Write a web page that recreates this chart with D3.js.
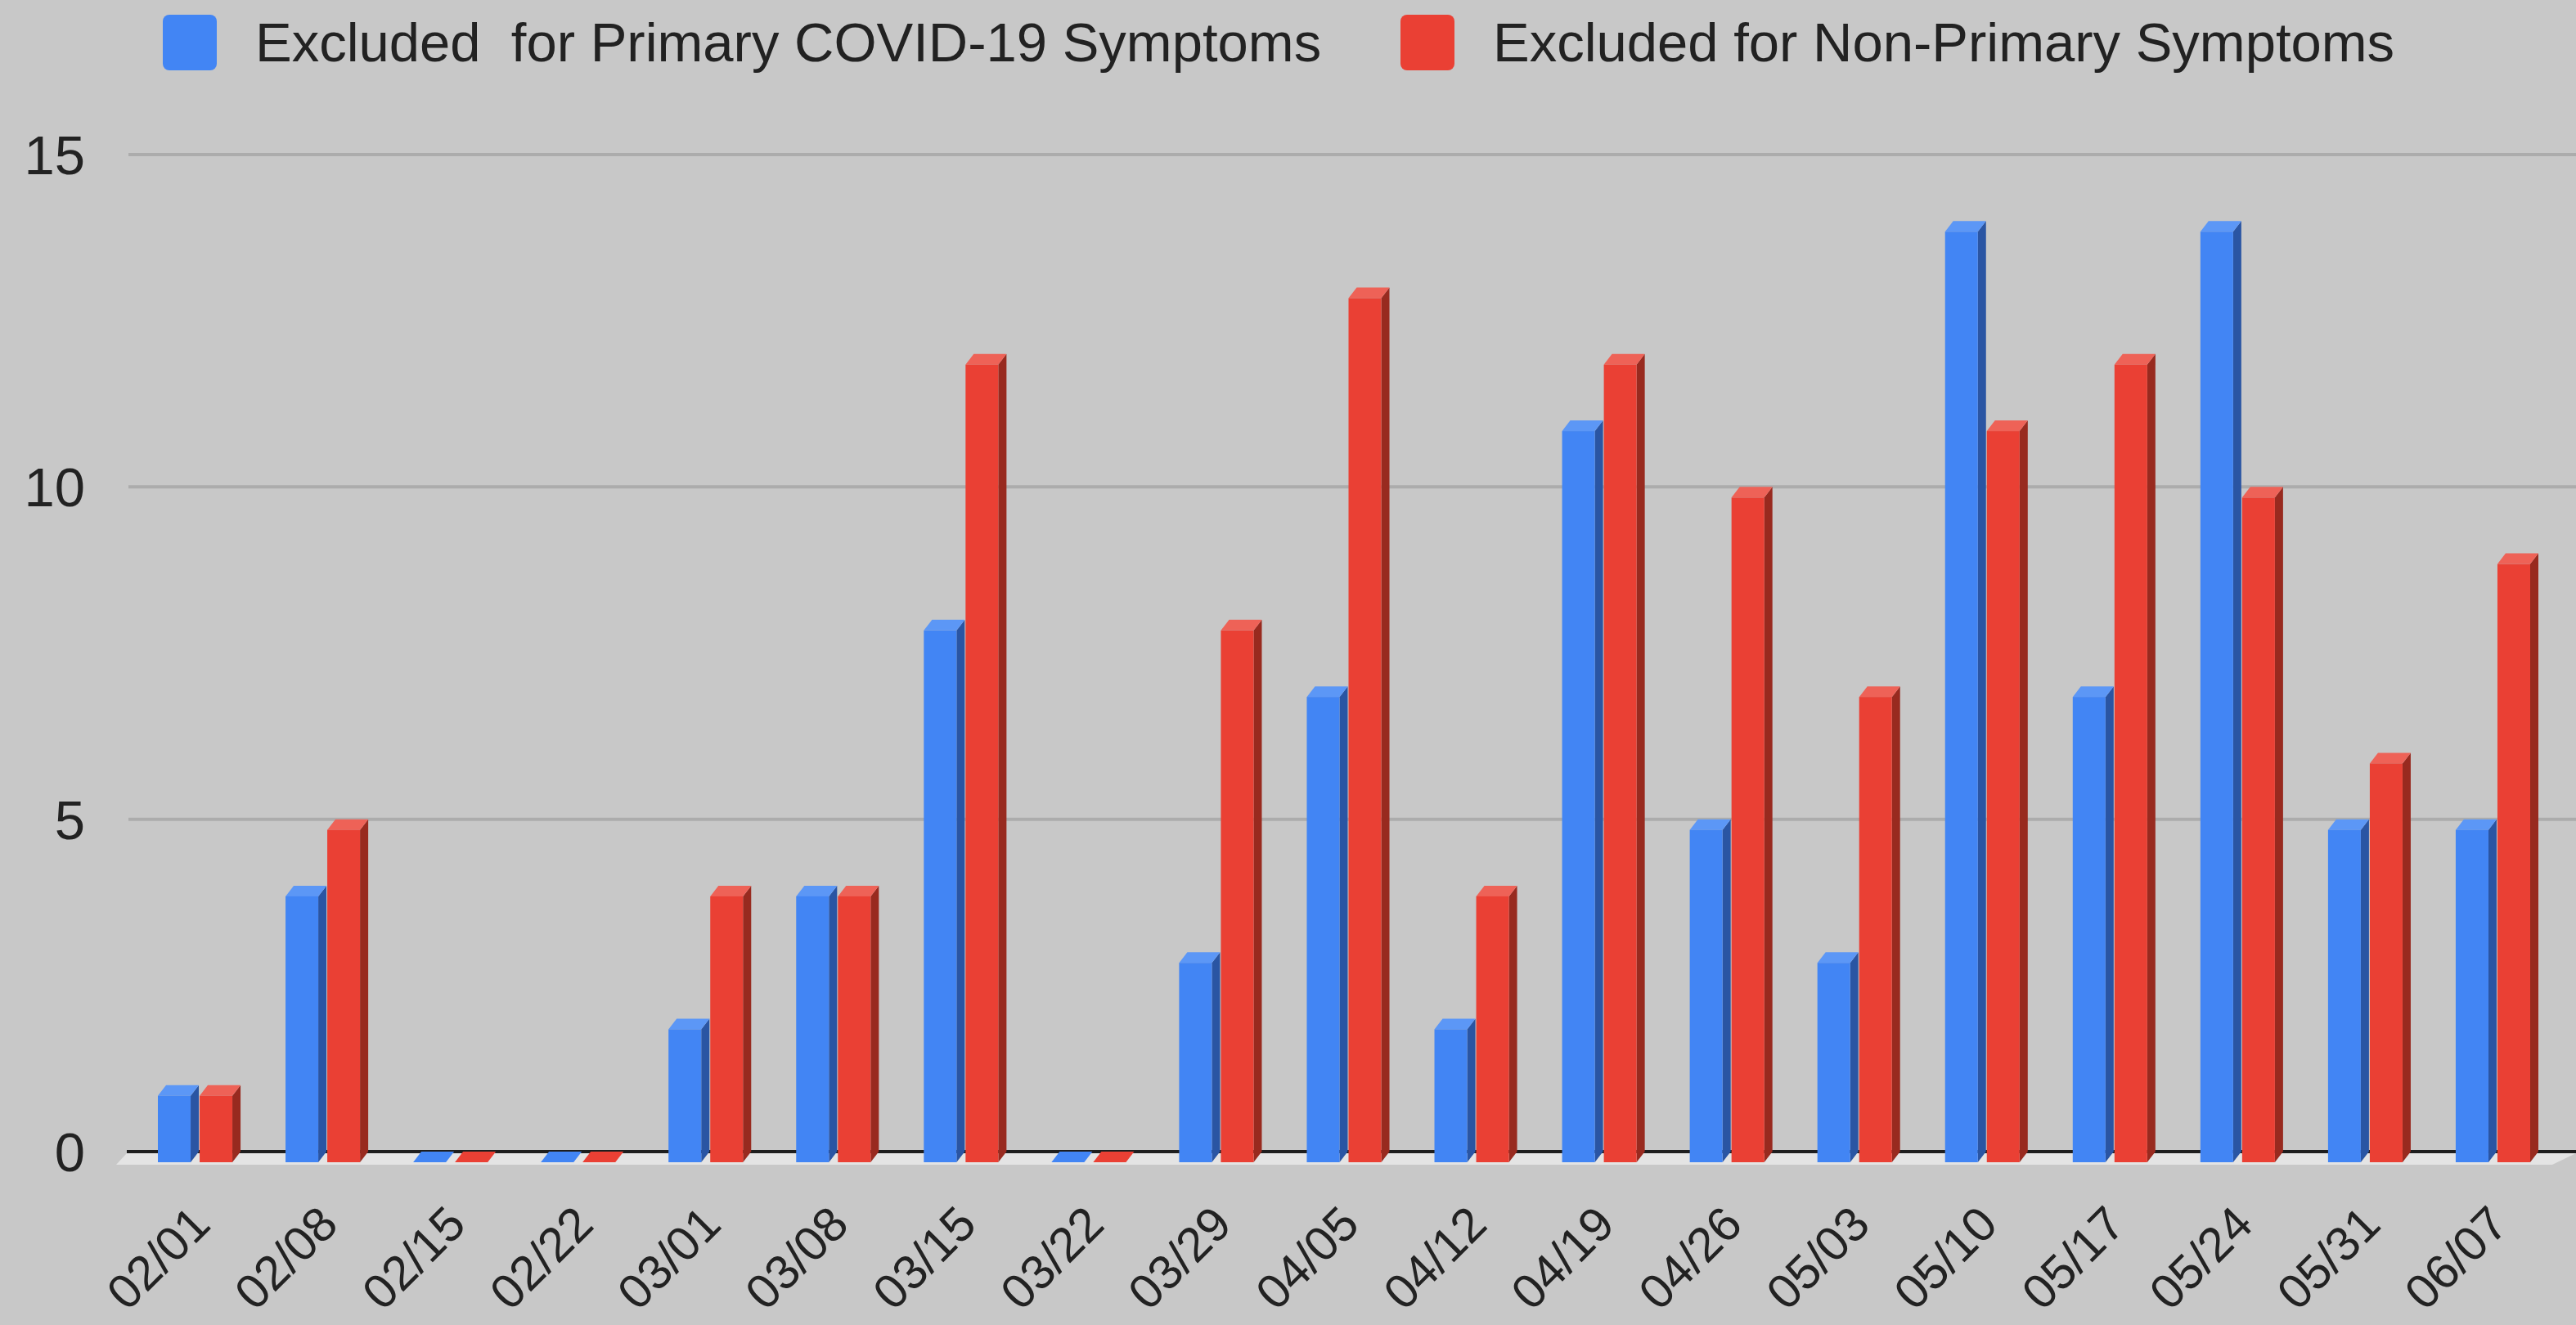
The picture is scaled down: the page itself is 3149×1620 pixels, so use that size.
<!DOCTYPE html>
<html>
<head>
<meta charset="utf-8">
<script src="https://cdn.jsdelivr.net/npm/d3@7"></script>
<style>
  html, body { margin: 0; padding: 0; background: #c8c8c8; }
  svg { display: block; }
  text { font-family: "Liberation Sans", Arial, sans-serif; fill: #222; }
</style>
</head>
<body>
<svg id="graph" width="3149" height="1620"></svg>
<script>
// datos del grafico
var dates = ["02/01", "02/08", "02/15", "02/22", "03/01", "03/08", "03/15", "03/22", "03/29", "04/05",
             "04/12", "04/19", "04/26", "05/03", "05/10", "05/17", "05/24", "05/31", "06/07"];
var primary = [1, 4, 0, 0, 2, 4, 8, 0, 3, 7, 2, 11, 5, 3, 14, 7, 14, 5, 5];
var nonPrimary = [1, 5, 0, 0, 4, 4, 12, 0, 8, 13, 4, 12, 10, 7, 11, 12, 10, 6, 9];
var seriesNames = ["Excluded  for Primary COVID-19 Symptoms", "Excluded for Non-Primary Symptoms"];
var yTicks = [0, 5, 10, 15];

function creaGrafica() {
    let svg = d3.select("#graph");
    let W = +svg.attr("width");

    // colores: frente, lado, tapa
    let colors = [
        { front: "#4285f4", side: "#2a55a3", top: "#5c97f6" },
        { front: "#ea4034", side: "#982a1f", top: "#ee6257" }
    ];
    let depthX = 10, depthY = 13;
    let fontSize = 67;
    let xFontSize = 59;

    let y = d3.scaleLinear().domain([0, 15]).range([1408, 189]);

    let x0 = d3.scaleBand()
        .domain(dates)
        .range([166, 3131])
        .paddingInner(0.346)
        .paddingOuter(0.173);
    let x1 = d3.scaleBand()
        .domain([0, 1])
        .range([0, x0.bandwidth()]);
    let barW = x1.bandwidth() - depthX - 1;

    // lineas de la grilla
    svg.append("g")
        .selectAll("line")
        .data(yTicks.filter(d => d > 0))
        .enter()
        .append("line")
        .attr("x1", 157)
        .attr("x2", W)
        .attr("y1", d => y(d))
        .attr("y2", d => y(d))
        .attr("stroke", "#acacac")
        .attr("stroke-width", 4);

    // etiquetas eje y
    svg.append("g")
        .selectAll("text")
        .data(yTicks)
        .enter()
        .append("text")
        .attr("x", 104)
        .attr("y", d => y(d) + 24)
        .attr("text-anchor", "end")
        .style("font-size", fontSize + "px")
        .text(d => d);

    // piso (franja clara) y linea del cero
    svg.append("path")
        .attr("d", "M" + 142 + "," + (y(0) + depthY + 3) +
                   "L" + 155 + "," + (y(0) + 2) +
                   "L" + W + "," + (y(0) + 2) +
                   "L" + (3120) + "," + (y(0) + depthY + 3) + "Z")
        .attr("fill", "#e4e4e4");
    svg.append("line")
        .attr("x1", 155)
        .attr("x2", W)
        .attr("y1", y(0))
        .attr("y2", y(0))
        .attr("stroke", "#1e1e1e")
        .attr("stroke-width", 4);

    // barras 3D
    let rows = [];
    dates.forEach((d, i) => {
        rows.push({ date: d, s: 0, v: primary[i] });
        rows.push({ date: d, s: 1, v: nonPrimary[i] });
    });

    let bars = svg.append("g")
        .selectAll(".bar")
        .data(rows)
        .enter()
        .append("g")
        .attr("class", "bar");

    // lado
    bars.filter(d => d.v > 0)
        .append("path")
        .attr("d", d => {
            let bx = x0(d.date) + x1(d.s);
            return "M" + (bx + barW) + "," + (y(d.v) + depthY) +
                   "L" + (bx + barW + depthX) + "," + y(d.v) +
                   "L" + (bx + barW + depthX) + "," + y(0) +
                   "L" + (bx + barW) + "," + (y(0) + depthY) + "Z";
        })
        .attr("fill", d => colors[d.s].side);

    // tapa
    bars.append("path")
        .attr("d", d => {
            let bx = x0(d.date) + x1(d.s);
            return "M" + bx + "," + (y(d.v) + depthY) +
                   "L" + (bx + depthX) + "," + y(d.v) +
                   "L" + (bx + barW + depthX) + "," + y(d.v) +
                   "L" + (bx + barW) + "," + (y(d.v) + depthY) + "Z";
        })
        .attr("fill", d => d.v > 0 ? colors[d.s].top : colors[d.s].front);

    // frente
    bars.filter(d => d.v > 0)
        .append("rect")
        .attr("x", d => x0(d.date) + x1(d.s))
        .attr("y", d => y(d.v) + depthY)
        .attr("width", barW)
        .attr("height", d => y(0) - y(d.v))
        .attr("fill", d => colors[d.s].front);

    // etiquetas eje x inclinadas
    svg.append("g")
        .selectAll("text")
        .data(dates)
        .enter()
        .append("text")
        .attr("transform", d => "translate(" + (x0(d) + x0.bandwidth() / 2 + 16) + ",1500) rotate(-45)")
        .attr("text-anchor", "end")
        .style("font-size", xFontSize + "px")
        .text(d => d);

    // leyenda
    let legendX = [199, 1712];
    let legend = svg.append("g")
        .selectAll("g")
        .data(seriesNames)
        .enter()
        .append("g")
        .attr("transform", (d, i) => "translate(" + legendX[i] + ",0)");
    legend.append("rect")
        .attr("x", 0)
        .attr("y", 18)
        .attr("width", 66)
        .attr("height", 68)
        .attr("rx", 8)
        .attr("fill", (d, i) => colors[i].front);
    legend.append("text")
        .attr("x", 113)
        .attr("y", 75)
        .style("font-size", fontSize + "px")
        .style("white-space", "pre")
        .attr("xml:space", "preserve")
        .text(d => d);
}

creaGrafica();
</script>
</body>
</html>
